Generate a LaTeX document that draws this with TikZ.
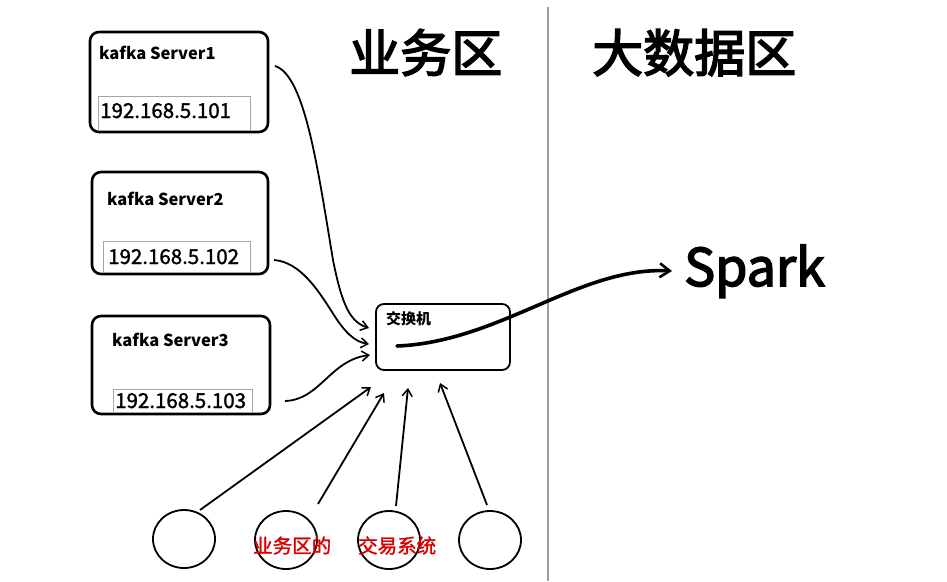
\documentclass[tikz,border=0pt]{standalone}
\usepackage{fontspec}
\setmainfont{Noto Sans CJK SC}
\newfontfamily\medfont[FakeBold=1.5]{Noto Sans CJK SC}
\newfontfamily\headfont[FakeBold=3]{Noto Sans CJK SC}
\usetikzlibrary{arrows.meta,calc,shapes.geometric}
\begin{document}
\begin{tikzpicture}[x=1pt,y=-1pt,
  srv/.style={draw,line width=2.6pt,rounded corners=9pt,inner sep=0pt,outer sep=0pt},
  ttl/.style={anchor=base west,inner sep=0pt,font=\fontsize{16.5}{18}\selectfont\bfseries},
  iptxt/.style={anchor=base west,inner sep=0pt,font=\fontsize{20.5}{22}\medfont},
  ipframe/.style={draw=gray!70,line width=0.9pt},
  conn/.style={line width=1.8pt,-{Straight Barb[length=7pt,width=10pt,line width=1.5pt]}},
  heading/.style={anchor=base west,inner sep=0pt,font=\fontsize{51}{54}\headfont},
  circ/.style={draw,ellipse,line width=1.8pt,minimum width=62pt,minimum height=58pt,inner sep=0pt},
  redtxt/.style={anchor=base west,inner sep=0pt,text=red!85!black,font=\fontsize{19.5}{21}\medfont}
]
\useasboundingbox[fill=white] (0,0) rectangle (947,581);

% separator
\draw[gray!75,line width=1.8pt] (548,7) -- (548,581);

% headings
\node[heading] (h1) at (349,72) {业务区};
\node[heading] (h2) at (592,72) {大数据区};

% servers
\node[srv,minimum width=178pt,minimum height=100pt] (s1) at (179,82) {};
\node[srv,minimum width=176pt,minimum height=102pt] (s2) at (180,223) {};
\node[srv,minimum width=178pt,minimum height=98pt] (s3) at (181,365) {};

\node[ttl] (t1) at (99,59) {kafka Server1};
\node[ttl] (t2) at (107,205) {kafka Server2};
\node[ttl] (t3) at (112,346) {kafka Server3};

\draw[ipframe] (98,131) -- (98,96) -- (250,96) -- (250,131);
\draw[ipframe] (103,273) -- (103,241) -- (250,241) -- (250,273);
\draw[ipframe] (113,413) -- (113,389) -- (252,389) -- (252,413);
\node[iptxt] (ip1) at (100,118) {192.168.5.101};
\node[iptxt] (ip2) at (108,264) {192.168.5.102};
\node[iptxt] (ip3) at (115,408) {192.168.5.103};

% switch
\node[draw,line width=1.8pt,rounded corners=8pt,minimum width=134pt,minimum height=66pt,inner sep=0pt] (sw) at (443,337) {};
\node[anchor=base west,inner sep=0pt,font=\fontsize{15}{16}\selectfont\bfseries] (swl) at (386,324) {交换机};

% Spark
\node[anchor=base west,inner sep=0pt,font=\fontsize{52}{56}\headfont] (spark) at (684,286) {Spark};
\coordinate (sparkstart) at ($(sw.center)+(-46,9)$);
\coordinate (sparkend) at (672,271);

% circles
\node[circ] (c1) at (184,539) {};
\node[circ] (c2) at (286,540) {};
\node[circ] (c3) at (389,540) {};
\node[circ] (c4) at (490,540) {};
\node[redtxt] (r1) at (253,553) {业务区的};
\node[redtxt] (r2) at (358,553) {交易系统};

% coordinates for connector ends
\coordinate (e1) at (369,328);
\coordinate (e2) at (369,344);
\coordinate (e3) at (370,355);
\coordinate (e4) at (371,387);
\coordinate (e5) at (384,393);
\coordinate (e6) at (408,388);
\coordinate (e7) at (440,383);
\coordinate (a1) at (275,66);
\coordinate (a2) at (274,260);
\coordinate (a3) at (285,401);
\coordinate (b1) at (200,510);
\coordinate (b2) at (318,504);
\coordinate (b3) at (396,506);
\coordinate (b4) at (487,505);

\draw[conn] (a1) .. controls (305,75) and (318,170) .. (333,260) .. controls (342,305) and (350,322) .. (e1);
\draw[conn] (a2) .. controls (300,262) and (318,290) .. (332,312) .. controls (345,333) and (355,342) .. (e2);
\draw[conn] (a3) .. controls (320,400) and (330,360) .. (e3);
\draw[conn] (b1) -- (e4);
\draw[conn] (b2) -- (e5);
\draw[conn] (b3) -- (e6);
\draw[conn] (b4) -- (e7);

\draw[line width=3.6pt,line cap=round,-{Straight Barb[length=10pt,width=14pt,line width=2.6pt]}] (sparkstart) .. controls (500,342) and (580,266) .. (sparkend);
\end{tikzpicture}
\end{document}
